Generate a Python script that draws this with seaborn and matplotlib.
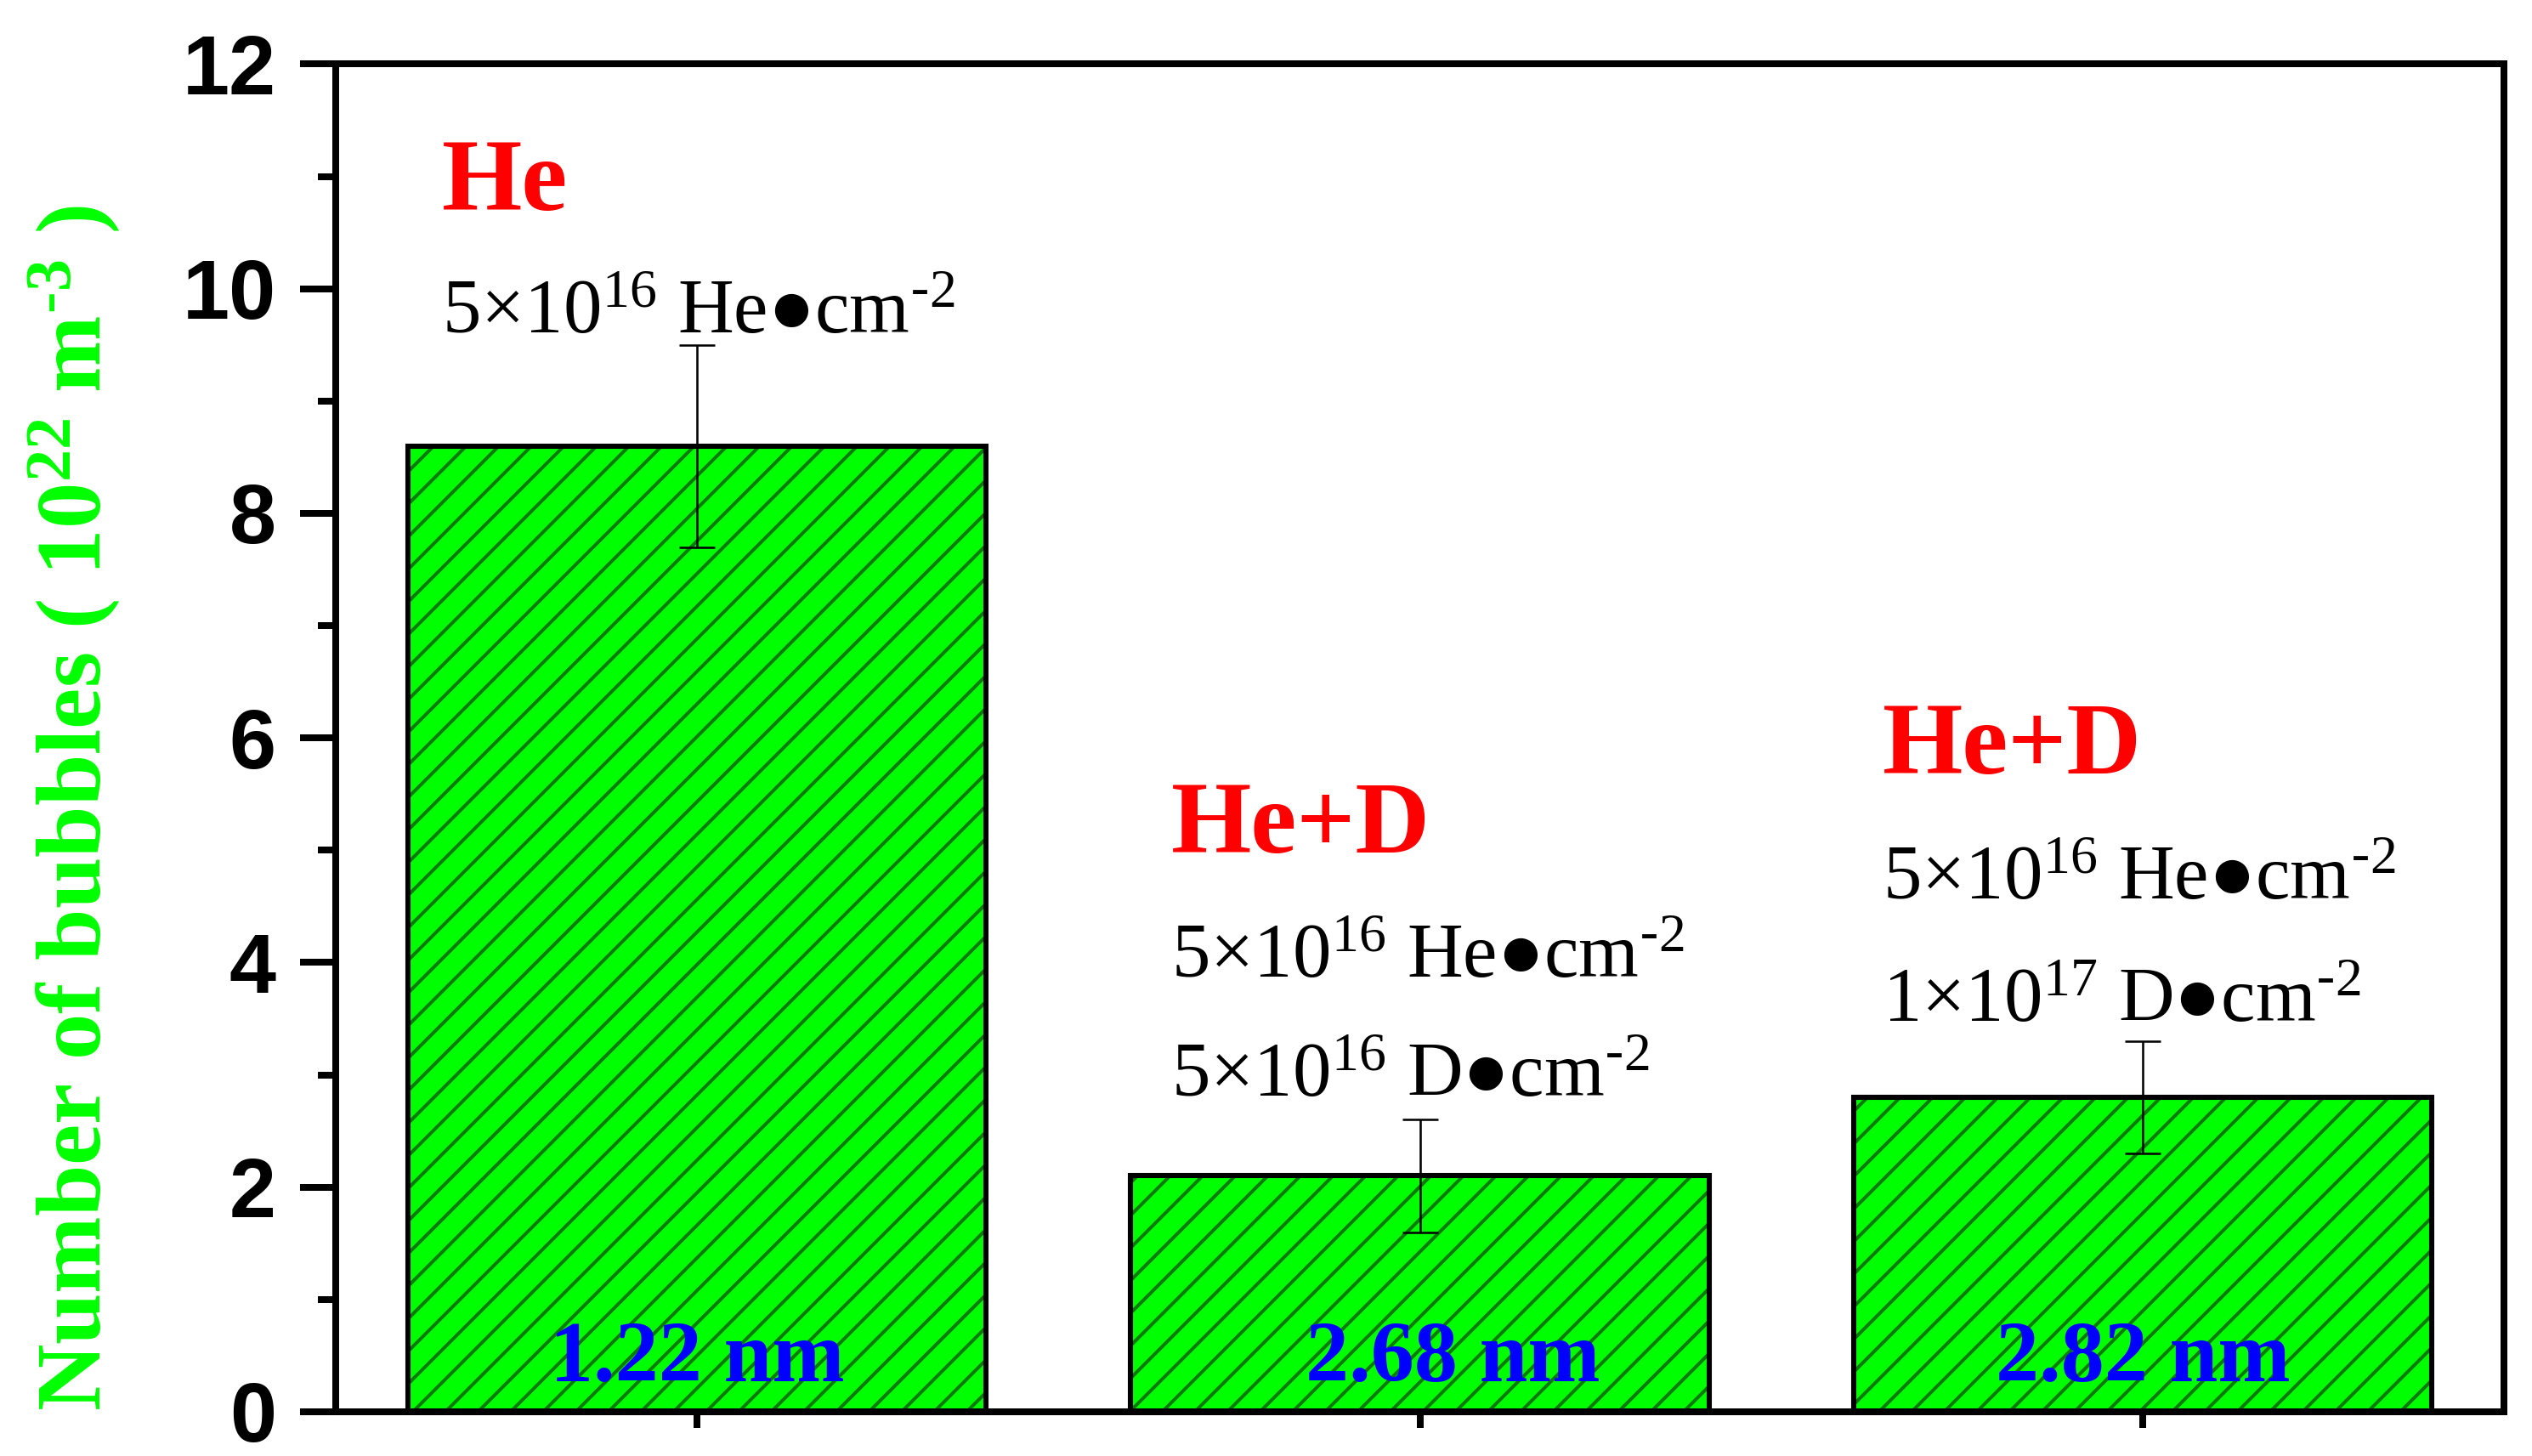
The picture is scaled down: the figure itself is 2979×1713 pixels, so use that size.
import numpy as np
import matplotlib
matplotlib.use("Agg")
import matplotlib.pyplot as plt
from matplotlib.patches import Rectangle
import seaborn as sns

# ---- data ----
samples = ["He", "He+D (5e16 D)", "He+D (1e17 D)"]
density = [8.6, 2.1, 2.8]          # 10^22 m^-3
density_err = [0.9, 0.5, 0.5]
size_labels = ["1.22 nm", "2.68 nm", "2.82 nm"]
species = ["He", "He+D", "He+D"]
dose_lines = [
    [r"5×10$^{16}$ He●cm$^{\text{-}2}$"],
    [r"5×10$^{16}$ He●cm$^{\text{-}2}$", r"5×10$^{16}$ D●cm$^{\text{-}2}$"],
    [r"5×10$^{16}$ He●cm$^{\text{-}2}$", r"1×10$^{17}$ D●cm$^{\text{-}2}$"],
]

# ---- style ----
sns.set_style("white")
plt.rcParams["font.family"] = ["Liberation Serif", "DejaVu Serif"]
plt.rcParams["mathtext.fontset"] = "custom"
plt.rcParams["mathtext.default"] = "regular"
plt.rcParams["hatch.linewidth"] = 1.25

DPI = 230
fig, ax = plt.subplots(figsize=(2979 / DPI, 1713 / DPI), dpi=DPI)
fig.subplots_adjust(left=0.1326, right=0.989, top=0.956, bottom=0.0304)

sns.barplot(x=samples, y=density, color="#00ff00", width=0.8, saturation=1,
            edgecolor="#0b7a0b", linewidth=0, hatch="//", ax=ax, zorder=2)

# black outlines on top of the hatched bars
for p in list(ax.patches):
    ax.add_patch(Rectangle(p.get_xy(), p.get_width(), p.get_height(),
                           fill=False, edgecolor="black", linewidth=1.9, zorder=3))

xpos = np.arange(len(samples))
ax.errorbar(xpos, density, yerr=density_err, fmt="none", ecolor="black",
            elinewidth=0.8, capsize=6.6, capthick=0.8, zorder=4)

# ---- annotations ----
label_x = [-0.353, 0.656, 1.64]
species_y = [10.7, 4.98, 5.68]
line_y = [[9.6], [3.87, 2.81], [4.56, 3.47]]
size_x = [0.0, 1.045, 2.0]

for i in range(len(samples)):
    ax.text(label_x[i], species_y[i], species[i], color="#ff0000",
            fontsize=38, fontweight="bold", va="baseline", ha="left", zorder=5)
    for txt, yy in zip(dose_lines[i], line_y[i]):
        ax.text(label_x[i], yy, txt, color="black", fontsize=28.5,
                va="baseline", ha="left", zorder=5)
    ax.text(size_x[i], 0.27, size_labels[i], color="#0000ff", fontsize=32,
            fontweight="bold", va="baseline", ha="center", zorder=5)

# ---- axes ----
ax.set_xlim(-0.5, 2.5)
ax.set_ylim(0, 12)
ax.set_yticks(np.arange(0, 13, 2))
ax.set_yticks(np.arange(1, 12, 2), minor=True)
ax.set_xticks(xpos)
ax.set_xticklabels([])
ax.set_xlabel("")

for s in ax.spines.values():
    s.set_visible(True)
    s.set_linewidth(2.5)
    s.set_color("black")

ax.tick_params(axis="y", which="major", direction="out", length=13, width=2.5,
               left=True, right=False, labelsize=31, pad=9, colors="black")
ax.tick_params(axis="y", which="minor", direction="out", length=6.5, width=2.5,
               left=True, right=False, colors="black")
ax.tick_params(axis="x", which="major", direction="out", length=6, width=2.5,
               bottom=True, top=False, colors="black")
for lab in ax.get_yticklabels():
    lab.set_fontfamily(["Liberation Sans", "DejaVu Sans"])
    lab.set_fontweight("bold")

ax.set_ylabel(r"Number of bubbles ( 10$^{22}$ m$^{\text{-}3}$ )", color="#00ff00",
              fontsize=34, fontweight="bold")
ax.yaxis.set_label_coords(-0.0988, 0.448)

fig.savefig("out.png", dpi=DPI)
